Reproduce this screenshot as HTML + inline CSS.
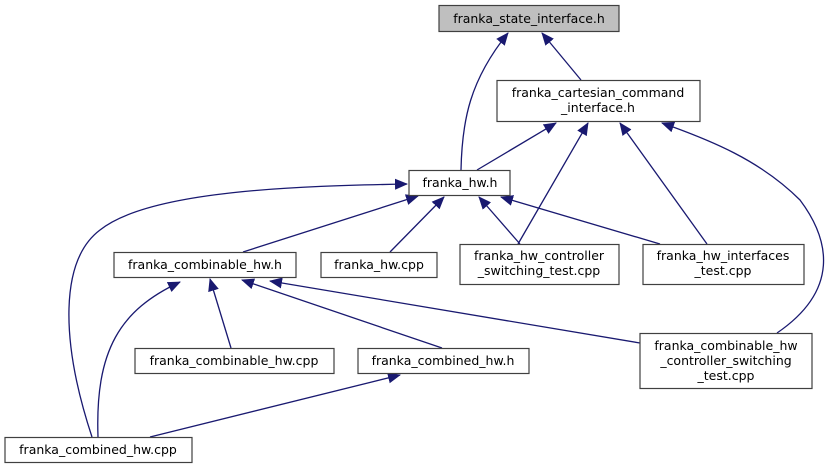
<!DOCTYPE html>
<html><head><meta charset="utf-8"><style>
body{margin:0;background:#fff;}
svg text{font-family:"DejaVu Sans","Liberation Sans",sans-serif;font-size:12.5px;fill:#000;}
</style></head><body>
<svg width="829" height="469" viewBox="0 0 829 469" xmlns="http://www.w3.org/2000/svg">
<defs><marker id="a" markerWidth="14" markerHeight="12" refX="12" refY="5.5" orient="auto" markerUnits="userSpaceOnUse"><path d="M0,0 L13,5.5 L0,11 z" fill="#191970"/></marker></defs>
<g fill="none" stroke="#191970" stroke-width="1.3" marker-end="url(#a)">
<path d="M461,170 C462,120 470,80 508,33"/>
<path d="M581,80 L542,33"/>
<path d="M477,170 L556,123"/>
<path d="M518,244 L588,123"/>
<path d="M707,244 L620,123"/>
<path d="M777,333 C840,290 830,240 800,200 C760,160 710,140 662,123"/>
<path d="M243,252 L418,196"/>
<path d="M390,252 L444,197"/>
<path d="M520,244 L479,197"/>
<path d="M660,244 L501,197"/>
<path d="M92,437 C60,340 60,260 100,230 C150,190 300,186 407,184"/>
<path d="M231,348 L210,279"/>
<path d="M442,348 L242,280"/>
<path d="M640,343 L270,281"/>
<path d="M98,437 C95,350 120,310 180,282"/>
<path d="M150,437 L400,375"/>
</g>
<g stroke="#404040" stroke-width="1.2">
<rect x="439" y="5.5" width="180" height="26" fill="#bfbfbf"/>
<rect x="497" y="80.5" width="203" height="41" fill="#fff"/>
<rect x="409" y="170.5" width="101" height="25" fill="#fff"/>
<rect x="114" y="252.5" width="182" height="25" fill="#fff"/>
<rect x="321" y="252.5" width="116" height="25" fill="#fff"/>
<rect x="460" y="244.5" width="159" height="40" fill="#fff"/>
<rect x="643" y="244.5" width="161" height="40" fill="#fff"/>
<rect x="135" y="348.5" width="199" height="25" fill="#fff"/>
<rect x="358" y="348.5" width="171" height="25" fill="#fff"/>
<rect x="640" y="333.5" width="172" height="55" fill="#fff"/>
<rect x="5" y="437.5" width="187" height="25" fill="#fff"/>
</g>
<g text-anchor="middle">
<text x="529" y="23">franka_state_interface.h</text>
<text x="598" y="97">franka_cartesian_command</text>
<text x="598" y="112">_interface.h</text>
<text x="460" y="187">franka_hw.h</text>
<text x="205" y="269">franka_combinable_hw.h</text>
<text x="379" y="269">franka_hw.cpp</text>
<text x="539" y="260">franka_hw_controller</text>
<text x="539" y="275">_switching_test.cpp</text>
<text x="723" y="260">franka_hw_interfaces</text>
<text x="723" y="275">_test.cpp</text>
<text x="234" y="365">franka_combinable_hw.cpp</text>
<text x="443" y="365">franka_combined_hw.h</text>
<text x="726" y="350">franka_combinable_hw</text>
<text x="726" y="365">_controller_switching</text>
<text x="726" y="380">_test.cpp</text>
<text x="98" y="454">franka_combined_hw.cpp</text>
</g>
</svg>
</body></html>
